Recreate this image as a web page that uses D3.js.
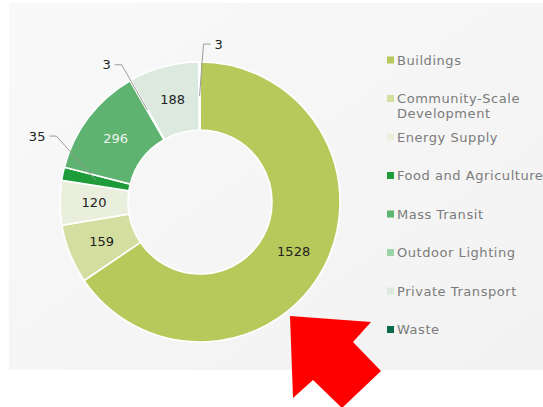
<!DOCTYPE html>
<html lang="en">
<head>
  <meta charset="UTF-8">
  <title>Donut by category</title>
  <script src="https://d3js.org/d3.v7.min.js"></script>
  <style>
    body { margin: 0; background: #fff; }
    svg { display: block; font-family: "DejaVu Sans", sans-serif; }
    .legend text { font-size: 13px; fill: #7b7b7b; letter-spacing: 0.55px; }
    .label { font-size: 13px; fill: #222; }
    .leader { fill: none; stroke: #9a9a9a; stroke-width: 1; }
  </style>
</head>
<body>
  <svg width="543" height="407"></svg>

  <script>
    // data
    const categories = ["Buildings", "Community-Scale Development", "Energy Supply", "Food and Agriculture",
                        "Mass Transit", "Outdoor Lighting", "Private Transport", "Waste"];
    const values = [1528, 159, 120, 35, 296, 3, 188, 3];
    const colors = ["#b7c95b", "#d4dea0", "#eaeedc", "#1e9c3a", "#5db36f", "#9dd3a9", "#dbe9df", "#0b6a47"];
    // legend lines (the long name wraps)
    const legendLines = [["Buildings"], ["Community-Scale", "Development"], ["Energy Supply"], ["Food and Agriculture"],
                         ["Mass Transit"], ["Outdoor Lighting"], ["Private Transport"], ["Waste"]];
    // small slices get an outside label; angle nudge in degrees
    const outsideShift = {"Food and Agriculture": 13, "Outdoor Lighting": 0, "Waste": 1.5};
    const whiteLabels = ["Mass Transit"];
    // red annotation arrow
    const arrowPts = [[290, 316], [371, 322], [353, 342], [381, 371], [342, 408], [313, 380], [293, 398]];

    const svg = d3.select("svg");
    const cx = 200, cy = 202, outerR = 140, innerR = 72;

    // panel
    const grad = svg.append("defs").append("linearGradient")
      .attr("id", "bg").attr("x1", 0).attr("y1", 0).attr("x2", 1).attr("y2", 1);
    grad.append("stop").attr("offset", "0%").attr("stop-color", "#f9f9f9");
    grad.append("stop").attr("offset", "100%").attr("stop-color", "#f2f2f2");
    svg.append("rect").attr("x", 9).attr("y", 3).attr("width", 534).attr("height", 367)
      .attr("fill", "url(#bg)");

    const data = categories.map((c, i) => ({name: c, value: values[i], color: colors[i]}));

    const pie = d3.pie().value(d => d.value).sort(null);
    const arcs = pie(data);
    const arc = d3.arc().innerRadius(innerR).outerRadius(outerR);
    const mid = d3.arc().innerRadius(106).outerRadius(106);

    const g = svg.append("g").attr("transform", `translate(${cx},${cy})`);

    g.selectAll("path.slice")
      .data(arcs)
      .enter().append("path")
        .attr("class", "slice")
        .attr("d", arc)
        .attr("fill", d => d.data.color)
        .attr("stroke", "#fff")
        .attr("stroke-width", 1.6);

    // inside labels
    g.selectAll("text.inside")
      .data(arcs.filter(d => !(d.data.name in outsideShift)))
      .enter().append("text")
        .attr("class", "label")
        .attr("transform", d => `translate(${mid.centroid(d)})`)
        .attr("text-anchor", "middle")
        .attr("dy", "0.36em")
        .style("fill", d => whiteLabels.includes(d.data.name) ? "#eef5ee" : "#222")
        .text(d => d.data.value);

    // outside labels with leader lines
    const outside = arcs.filter(d => d.data.name in outsideShift);
    outside.forEach(d => {
      const p0 = mid.centroid(d);
      const a = (d.startAngle + d.endAngle) / 2 + outsideShift[d.data.name] * Math.PI / 180;
      const r = 158;
      const p1 = [r * Math.sin(a), -r * Math.cos(a)];
      const side = p1[0] >= 0 ? 1 : -1;
      const p2 = [p1[0] + side * 7, p1[1]];
      g.append("path").attr("class", "leader")
        .attr("d", d3.line()([p0, p1, p2]));
      g.append("text").attr("class", "label")
        .attr("x", p2[0] + side * 4).attr("y", p2[1])
        .attr("dy", "0.36em")
        .attr("text-anchor", side > 0 ? "start" : "end")
        .text(d.data.value);
    });

    // legend
    const legend = svg.append("g").attr("class", "legend");
    const ly = d3.scalePoint().domain(categories).range([60, 329.5]);
    const item = legend.selectAll("g")
      .data(data)
      .enter().append("g")
        .attr("transform", d => `translate(387,${ly(d.name)})`);
    item.append("rect")
      .attr("x", 0).attr("y", -3.5).attr("width", 7).attr("height", 7)
      .attr("fill", d => d.color);
    item.each(function(d, i) {
      const t = d3.select(this).append("text").attr("x", 10);
      legendLines[i].forEach((line, k) => {
        t.append("tspan").attr("x", 10).attr("dy", k === 0 ? "0.36em" : 15).text(line);
      });
    });

    // annotation arrow
    svg.append("polygon")
      .attr("points", arrowPts.map(p => p.join(",")).join(" "))
      .attr("fill", "#ff0000");
  </script>
</body>
</html>
